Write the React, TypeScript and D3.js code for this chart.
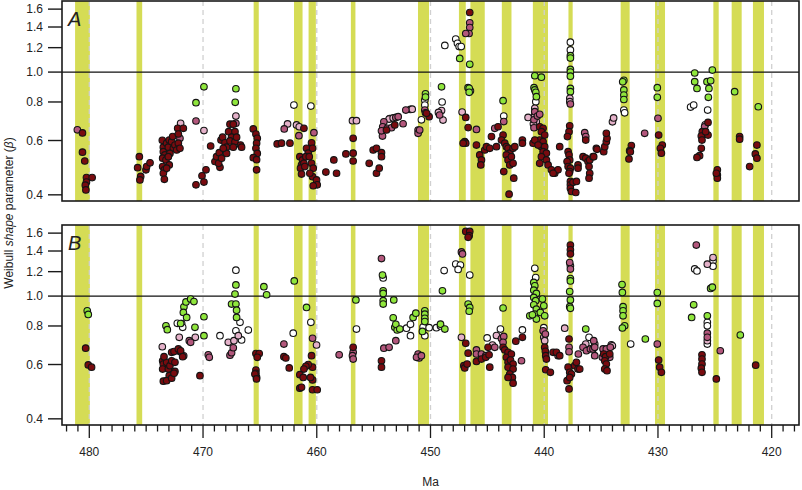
import React from 'react';
import * as d3 from 'd3';

type P = [number, number];

const yTicks = [0.4, 0.6, 0.8, 1.0, 1.2, 1.4, 1.6];
const xMajor = [480, 470, 460, 450, 440, 430, 420];
const xMinor = d3.range(418, 483, 1);

const bands: P[] = [
  [481.25, 479.95], [475.85, 475.35], [465.55, 465.1], [462.0, 461.25], [460.72, 460.08],
  [457.0, 456.6], [451.1, 450.13], [447.5, 446.9], [446.49, 445.23], [443.73, 442.88],
  [441.0, 439.67], [437.87, 437.5], [433.28, 432.49], [430.26, 429.38], [425.13, 424.66],
  [423.52, 422.64], [421.65, 420.68],
];

// ---------- Panel A ----------
const A_dark: P[] = [
  [480.6, 0.635], [480.6, 0.55], [480.4, 0.515], [480.25, 0.455], [480.25, 0.44], [480.35, 0.43], [480.3, 0.415], [479.75, 0.455],
  [475.6, 0.532], [475.75, 0.49], [475.48, 0.459], [475.55, 0.447], [475.02, 0.482], [474.96, 0.494], [474.66, 0.508],
  [473.58, 0.601], [473.49, 0.571], [473.49, 0.552], [473.35, 0.539], [473.55, 0.526], [473.26, 0.519], [473.55, 0.494], [473.4, 0.482], [473.49, 0.47], [473.4, 0.449],
  [473.2, 0.588], [473.05, 0.571], [472.97, 0.602], [472.76, 0.595], [472.67, 0.618], [472.61, 0.566], [472.91, 0.545], [473.05, 0.532], [472.97, 0.5], [473.2, 0.488],
  [472.47, 0.58], [472.32, 0.559], [472.17, 0.588], [472.03, 0.566], [472.23, 0.657], [471.73, 0.657], [472.17, 0.63],
  [469.74, 0.482], [470.09, 0.461], [470.62, 0.431], [469.92, 0.44], [469.33, 0.576],
  [468.95, 0.513], [468.81, 0.532], [468.57, 0.548], [468.42, 0.602], [468.28, 0.615], [468.07, 0.59], [467.93, 0.571], [468.51, 0.491], [468.63, 0.506], [468.37, 0.526],
  [467.75, 0.641], [467.63, 0.678], [467.34, 0.678], [467.19, 0.641], [467.49, 0.615], [467.63, 0.598], [467.19, 0.595], [467.05, 0.615], [466.7, 0.58], [466.61, 0.571], [467.34, 0.571], [467.93, 0.545], [468.22, 0.566],
  [465.58, 0.654], [465.35, 0.63], [465.23, 0.61], [465.29, 0.588], [465.35, 0.566], [465.23, 0.545], [465.58, 0.528], [465.29, 0.52], [465.29, 0.482],
  [463.48, 0.585], [463.1, 0.588], [462.36, 0.588], [461.13, 0.657],
  [461.49, 0.532], [461.25, 0.519], [461.34, 0.5], [461.13, 0.506], [461.43, 0.488], [461.34, 0.467], [460.9, 0.566], [460.75, 0.546], [460.96, 0.532],
  [460.46, 0.59], [460.37, 0.566], [460.66, 0.532], [460.46, 0.506], [460.31, 0.488], [460.37, 0.458], [460.02, 0.447], [459.96, 0.431], [460.31, 0.428], [460.61, 0.47], [461.05, 0.494],
  [459.2, 0.474], [458.26, 0.47], [458.5, 0.519], [457.44, 0.543],
  [456.8, 0.61], [456.8, 0.546], [456.8, 0.515],
  [455.39, 0.506], [455.04, 0.559], [454.75, 0.566], [454.31, 0.548], [454.31, 0.532], [454.75, 0.47], [454.51, 0.488], [453.87, 0.649], [453.14, 0.674],
  [450.12, 0.717], [450.35, 0.735],
  [446.55, 1.56],
  [446.9, 0.713], [446.69, 0.661], [446.99, 0.595], [446.9, 0.588], [447.13, 0.588],
  [445.96, 0.58], [445.67, 0.539], [445.52, 0.519], [445.58, 0.5], [445.23, 0.559], [445.08, 0.573], [444.79, 0.566], [444.64, 0.618], [444.2, 0.573], [444.06, 0.665],
  [443.62, 0.625], [443.76, 0.602], [443.47, 0.588], [443.33, 0.573], [443.18, 0.566], [443.03, 0.546], [443.33, 0.539], [443.18, 0.519], [443.03, 0.5], [442.89, 0.532],
  [442.74, 0.506], [442.74, 0.566], [442.59, 0.573], [443.56, 0.476], [442.68, 0.453], [443.09, 0.402],
  [441.92, 0.602], [441.92, 0.588],
  [440.4, 0.665], [440.1, 0.657], [440.25, 0.641], [439.96, 0.625], [440.4, 0.602], [440.1, 0.595], [440.25, 0.573], [439.96, 0.573], [440.1, 0.552], [439.81, 0.546],
  [440.25, 0.532], [439.81, 0.519], [439.66, 0.5], [439.37, 0.482], [439.08, 0.47], [438.79, 0.482], [439.22, 0.47], [440.4, 0.506], [440.98, 0.588], [440.83, 0.602], [440.54, 0.58],
  [438.64, 0.573],
  [437.76, 0.67], [437.82, 0.641], [437.96, 0.618], [437.9, 0.552], [437.82, 0.539], [437.76, 0.519], [437.99, 0.513], [437.9, 0.494], [437.7, 0.488], [437.76, 0.476],
  [437.82, 0.47], [437.7, 0.442], [437.7, 0.431], [437.47, 0.439], [437.7, 0.42], [437.61, 0.41], [437.17, 0.442], [437.03, 0.5], [437.03, 0.488], [437.23, 0.407],
  [436.35, 0.602], [436.59, 0.532], [436.35, 0.526], [436.15, 0.513], [436.0, 0.519], [435.71, 0.532], [435.42, 0.566], [436.06, 0.494], [436.0, 0.47], [436.06, 0.453],
  [435.65, 0.532], [435.36, 0.562], [434.77, 0.552], [434.68, 0.573], [434.54, 0.595], [434.48, 0.61], [434.54, 0.633],
  [432.34, 0.578], [432.49, 0.556], [432.43, 0.552], [432.55, 0.523],
  [429.94, 0.625], [429.62, 0.58], [429.79, 0.566], [429.7, 0.546],
  [425.6, 0.687], [426.1, 0.641], [426.19, 0.62], [426.13, 0.602], [426.19, 0.566], [426.34, 0.536], [426.57, 0.529], [425.6, 0.625], [425.81, 0.641],
  [424.78, 0.482], [424.78, 0.464], [424.78, 0.453], [424.87, 0.47],
  [422.82, 0.618], [422.82, 0.606], [421.94, 0.494], [421.3, 0.58], [421.44, 0.543], [421.3, 0.526],
];
const A_mauve: P[] = [
  [481.05, 0.65], [470.62, 0.694], [472.03, 0.61], [467.11, 0.682],
  [462.86, 0.654], [461.57, 0.622], [460.25, 0.636],
  [454.1, 0.69], [454.2, 0.665], [454.22, 0.62], [454.31, 0.645], [453.81, 0.657], [453.43, 0.66], [453.05, 0.713], [452.84, 0.717], [452.41, 0.68], [452.17, 0.753],
  [450.5, 0.753], [450.44, 0.738], [451.09, 0.649], [451.09, 0.633], [450.95, 0.649],
  [449.2, 0.726],
  [446.55, 1.444], [446.55, 1.395], [446.61, 1.334], [446.9, 1.334],
  [445.96, 0.652], [444.35, 0.657], [443.56, 0.691],
  [440.83, 0.744], [440.9, 0.7], [440.6, 0.72], [440.4, 0.73], [440.9, 0.66],
  [437.7, 0.788], [436.44, 0.636], [436.35, 0.618],
  [431.17, 0.633], [430.0, 0.708], [425.9, 0.665],
];
const A_light: P[] = [
  [471.97, 0.682], [469.92, 0.646], [467.11, 0.72],
  [462.57, 0.679], [461.78, 0.674], [461.54, 0.665], [456.86, 0.696], [456.51, 0.696],
  [453.64, 0.704], [453.28, 0.71], [451.76, 0.757], [451.61, 0.758],
  [449.03, 0.75], [448.9, 0.699], [449.3, 0.74], [447.22, 0.742],
  [440.83, 0.763], [440.83, 0.726], [441.42, 0.713], [440.7, 0.69], [440.95, 0.68],
  [437.75, 0.822], [437.75, 0.802], [434.0, 0.69], [433.9, 0.71], [425.85, 0.675],
];
const A_white: P[] = [
  [462.01, 0.782], [460.52, 0.776], [453.58, 0.706],
  [450.5, 0.812], [450.5, 0.782], [450.8, 0.7], [448.98, 0.8],
  [448.74, 1.22], [447.78, 1.28], [447.63, 1.24], [447.48, 1.21], [447.3, 1.21], [446.49, 0.87],
  [443.56, 0.72], [440.74, 0.802], [437.7, 1.25], [437.7, 1.18],
  [433.0, 0.753], [432.93, 0.738], [427.13, 0.77], [426.86, 0.782], [425.63, 0.753],
];
const A_green: P[] = [
  [470.62, 0.796], [469.92, 0.896], [467.11, 0.883], [467.17, 0.798],
  [450.44, 0.85], [450.44, 0.83], [449.03, 0.896],
  [447.43, 1.107], [446.55, 1.06], [446.7, 0.89], [446.6, 0.886], [446.6, 0.86],
  [443.62, 0.808],
  [440.83, 0.973], [440.25, 0.963], [440.9, 0.89], [440.83, 0.875], [440.74, 0.86], [440.69, 0.832],
  [437.7, 1.13], [437.7, 1.11], [437.7, 1.02], [437.7, 1.0], [437.7, 0.97], [437.7, 0.885], [437.7, 0.864],
  [433.0, 0.94], [433.1, 0.93], [433.0, 0.875], [433.0, 0.842], [433.0, 0.815],
  [430.06, 0.89], [430.06, 0.828],
  [426.77, 0.993], [426.77, 0.931], [426.57, 0.885], [425.69, 0.931], [425.37, 0.937], [425.22, 1.015], [425.52, 0.885], [425.57, 0.828],
  [423.26, 0.864], [421.18, 0.772],
];

// ---------- Panel B ----------
const B_dark: P[] = [
  [480.32, 0.678], [480.09, 0.598], [479.8, 0.588],
  [473.55, 0.617], [473.49, 0.602], [473.2, 0.61], [473.55, 0.58], [473.05, 0.58], [472.91, 0.595], [472.76, 0.617], [472.76, 0.657], [472.55, 0.661], [472.47, 0.61], [472.47, 0.57],
  [472.97, 0.552], [473.49, 0.53], [473.2, 0.532], [472.76, 0.542], [472.55, 0.562], [472.17, 0.674], [471.97, 0.665], [471.79, 0.636], [473.43, 0.636], [470.27, 0.552],
  [465.35, 0.651], [465.06, 0.651], [465.23, 0.633], [465.35, 0.576], [465.35, 0.562], [465.29, 0.545], [465.44, 0.559], [465.3, 0.539],
  [462.89, 0.636], [462.72, 0.63], [462.42, 0.585],
  [460.46, 0.641], [460.37, 0.588], [460.75, 0.6], [460.96, 0.592], [461.13, 0.58], [461.49, 0.556], [461.19, 0.545], [461.49, 0.503], [461.34, 0.506], [460.37, 0.535], [460.37, 0.497], [459.96, 0.497], [460.55, 0.545],
  [456.8, 0.682], [454.31, 0.617], [454.31, 0.588],
  [446.9, 1.62], [446.55, 1.62], [446.6, 1.57], [446.69, 1.55],
  [446.9, 0.703], [446.69, 0.653], [447.07, 0.595], [446.99, 0.585], [446.78, 0.602],
  [445.96, 0.614], [445.52, 0.625], [445.14, 0.633], [444.79, 0.588], [444.85, 0.645], [444.94, 0.682],
  [443.62, 0.682], [443.47, 0.669], [443.18, 0.657], [443.33, 0.633], [442.89, 0.649], [443.18, 0.61], [442.97, 0.62], [442.74, 0.602], [443.18, 0.588], [442.74, 0.58],
  [443.03, 0.559], [442.8, 0.545], [443.18, 0.545], [442.74, 0.522], [442.5, 0.714], [441.92, 0.735],
  [439.96, 0.682], [439.9, 0.662], [439.87, 0.641], [439.81, 0.625], [439.87, 0.577], [439.46, 0.566],
  [439.22, 0.657], [438.93, 0.657], [438.64, 0.641],
  [437.7, 1.463], [437.7, 1.413], [437.7, 1.37],
  [437.82, 0.726], [437.9, 0.588], [437.76, 0.566], [437.61, 0.559], [437.99, 0.532], [437.76, 0.545], [437.82, 0.5], [437.32, 0.595], [437.17, 0.61], [437.03, 0.58], [436.88, 0.58],
  [434.77, 0.649], [434.6, 0.636], [434.68, 0.617], [434.54, 0.602], [434.68, 0.58], [434.48, 0.573], [434.24, 0.649],
  [429.94, 0.62], [429.85, 0.588], [429.7, 0.566],
  [426.13, 0.645], [426.13, 0.625], [426.13, 0.602], [426.19, 0.584], [426.13, 0.566],
  [424.87, 0.539], [421.41, 0.597],
];
const B_mauve: P[] = [
  [471.21, 0.717], [471.09, 0.708], [471.7, 0.64], [469.54, 0.645], [469.45, 0.633],
  [467.63, 0.643], [467.49, 0.655], [467.34, 0.68],
  [462.89, 0.699], [460.37, 0.73], [458.03, 0.645],
  [456.8, 0.657], [456.86, 0.641], [456.8, 0.625],
  [454.31, 1.323], [454.1, 0.678], [453.64, 0.682], [453.05, 0.717],
  [451.09, 0.649], [451.0, 0.63], [451.23, 0.633], [450.8, 0.641],
  [447.28, 1.39], [447.19, 1.37],
  [445.96, 0.669], [445.96, 0.649], [445.52, 0.649], [445.14, 0.641],
  [444.35, 0.682], [443.76, 0.728], [443.56, 0.74], [443.62, 0.708], [442.0, 0.617],
  [440.1, 0.772], [439.9, 0.753], [438.78, 0.641],
  [437.76, 1.285], [437.7, 1.223], [437.82, 0.682], [437.82, 0.66],
  [437.0, 0.649], [436.59, 0.682], [436.29, 0.665], [435.94, 0.674], [435.71, 0.674], [435.65, 0.717], [435.56, 0.682], [435.56, 0.641],
  [434.83, 0.674], [434.54, 0.674], [434.19, 0.682], [434.24, 0.633], [434.89, 0.633],
  [430.06, 0.699], [426.63, 1.463], [425.66, 0.758], [425.66, 0.735], [424.52, 0.665],
];
const B_light: P[] = [
  [473.58, 0.685], [472.09, 0.735], [470.68, 0.735], [472.0, 0.66],
  [467.78, 0.708], [467.28, 0.717], [466.9, 0.744], [460.02, 0.694],
  [447.28, 0.735], [444.55, 0.694], [444.2, 0.745], [440.04, 0.735], [439.96, 0.717], [438.2, 0.787],
  [437.7, 1.253], [436.35, 0.699], [435.56, 0.699], [434.1, 0.695], [434.01, 0.69],
  [425.66, 1.269], [425.16, 1.333], [425.66, 0.717],
];
const B_white: P[] = [
  [472.26, 0.816], [471.88, 0.815], [471.79, 0.792],
  [467.11, 1.213], [466.75, 0.822], [466.61, 0.721], [466.02, 0.776], [467.11, 0.772], [468.51, 0.744],
  [462.07, 0.758], [460.52, 0.822], [456.51, 0.782], [454.16, 1.145],
  [452.11, 0.787], [451.76, 0.81], [451.76, 0.744], [450.65, 0.794], [450.5, 0.744], [450.12, 0.79], [449.48, 0.79], [449.12, 0.8],
  [448.8, 1.21], [447.78, 1.27], [447.37, 1.26], [447.57, 1.22], [446.55, 1.17],
  [445.02, 0.732], [443.85, 0.782], [441.92, 0.777], [440.83, 1.23], [440.75, 1.149], [440.04, 0.79],
  [436.06, 0.735], [432.4, 0.699], [426.77, 1.225], [426.57, 1.207], [425.16, 1.3], [425.16, 1.25],
  [425.66, 0.822], [425.66, 0.801], [425.66, 0.699],
];
const B_green: P[] = [
  [480.18, 0.896], [480.09, 0.872], [473.26, 0.801], [473.14, 0.778],
  [471.68, 0.923], [471.5, 0.957], [471.09, 0.978], [470.8, 0.96], [471.73, 0.885], [471.44, 0.853], [471.97, 0.815], [470.71, 0.792],
  [469.92, 0.857], [469.92, 0.744],
  [467.11, 1.087], [467.19, 1.015], [467.49, 0.942], [467.11, 0.942], [467.05, 0.9], [467.05, 0.853],
  [464.65, 1.073], [464.41, 1.01], [461.98, 1.12], [460.9, 0.919], [456.56, 0.972],
  [454.22, 1.17], [454.16, 1.04], [454.16, 1.02], [454.16, 0.966], [454.16, 0.942],
  [453.23, 0.972], [453.28, 0.85], [453.14, 0.792], [452.93, 0.777], [453.05, 0.81], [452.7, 0.782],
  [451.53, 0.853], [451.29, 0.88], [450.71, 0.768], [450.5, 0.896], [450.5, 0.874], [450.5, 0.847], [450.5, 0.827],
  [449.12, 0.811], [448.74, 0.782], [448.95, 1.04], [446.69, 0.942], [446.55, 0.919], [446.6, 0.893], [443.62, 0.915],
  [440.92, 1.107], [440.83, 1.08], [440.92, 1.045], [440.69, 1.02], [440.92, 0.99], [440.75, 0.966], [440.92, 0.937], [440.69, 0.907],
  [440.83, 0.874], [440.69, 0.842], [441.27, 0.863], [441.04, 0.87], [440.34, 0.885], [440.16, 0.978], [440.04, 0.93], [439.96, 0.863],
  [437.7, 1.14], [437.7, 1.12], [437.76, 1.035], [437.7, 0.972], [437.76, 0.924], [437.7, 0.913], [436.35, 0.782],
  [433.16, 1.09], [433.13, 1.028], [433.07, 0.924], [433.07, 0.896], [433.07, 0.863], [432.93, 0.801], [433.13, 0.788],
  [431.11, 0.726], [430.06, 1.027], [430.06, 0.947],
  [426.86, 0.937], [427.04, 0.853], [425.66, 0.863], [425.37, 1.059], [425.22, 1.069], [422.76, 0.748],
];

const COLORS = {
  white: '#ffffff',
  green: '#8fe63c',
  light: '#e4b1c9',
  mauve: '#b3577c',
  dark: '#790b0f',
};
const BAND = '#d5dc55';
const FONT = '"Liberation Sans", Arial, Helvetica, sans-serif';

const X0 = 62, X1 = 799;
const panelsDef = [
  { label: 'A', top: 1, bottom: 201, series: { white: A_white, green: A_green, light: A_light, mauve: A_mauve, dark: A_dark } },
  { label: 'B', top: 225, bottom: 425, series: { white: B_white, green: B_green, light: B_light, mauve: B_mauve, dark: B_dark } },
];

export default function App() {
  const x = d3.scaleLinear().domain([482.4, 417.6]).range([X0, X1]);
  const order: (keyof typeof COLORS)[] = ['white', 'green', 'light', 'mauve', 'dark'];
  const axisY = 425;
  return (
    <svg width={802} height={490} style={{ position: 'absolute', left: 0, top: 0, background: '#fff' }} fontFamily={FONT}>
      {panelsDef.map((p) => {
        const y = d3.scaleLog().domain([0.382, 1.7]).range([p.bottom, p.top]);
        const h = p.bottom - p.top;
        return (
          <g key={p.label}>
            {bands.map(([a, b], i) => (
              <rect key={i} x={x(a)} y={p.top} width={x(b) - x(a)} height={h} fill={BAND} />
            ))}
            {xMajor.map((m) => (
              <line key={m} x1={x(m)} x2={x(m)} y1={p.top} y2={p.bottom} stroke="#d0d0d0" strokeWidth={1.3} strokeDasharray="5,4" />
            ))}
            <line x1={X0} x2={X1} y1={y(1)} y2={y(1)} stroke="#111" strokeWidth={1.4} />
            {order.map((k) =>
              (p.series as any)[k].map((d: P, i: number) => (
                <circle key={k + i} cx={x(d[0])} cy={y(d[1])} r={3.3} fill={COLORS[k]} stroke="#141414" strokeWidth={1.1} />
              ))
            )}
            <rect x={X0} y={p.top} width={X1 - X0} height={h} fill="none" stroke="#1a1a1a" strokeWidth={1.6} />
            {yTicks.map((t) => (
              <g key={t}>
                <line x1={48} x2={X0} y1={y(t)} y2={y(t)} stroke="#1a1a1a" strokeWidth={1.4} />
                <text x={43} y={y(t) + 4.3} textAnchor="end" fontSize={12} fill="#222">{t.toFixed(1)}</text>
              </g>
            ))}
            <text x={68} y={p.top + 25} fontSize={20} fontStyle="italic" fill="#222">{p.label}</text>
          </g>
        );
      })}
      {xMinor.map((m) => (
        <line key={m} x1={x(m)} x2={x(m)} y1={axisY} y2={xMajor.includes(m) ? axisY + 13 : axisY + 6.5} stroke="#1a1a1a" strokeWidth={1.3} />
      ))}
      {xMajor.map((m) => (
        <text key={m} x={x(m)} y={456} textAnchor="middle" fontSize={12} fill="#222">{m}</text>
      ))}
      <text x={(X0 + X1) / 2} y={486} textAnchor="middle" fontSize={12} fill="#222">Ma</text>
      <text transform={`translate(13,213) rotate(-90)`} textAnchor="middle" fontSize={12} fill="#222">
        Weibull <tspan fontStyle="italic">shape</tspan> parameter (<tspan fontStyle="italic">β</tspan>)
      </text>
    </svg>
  );
}
